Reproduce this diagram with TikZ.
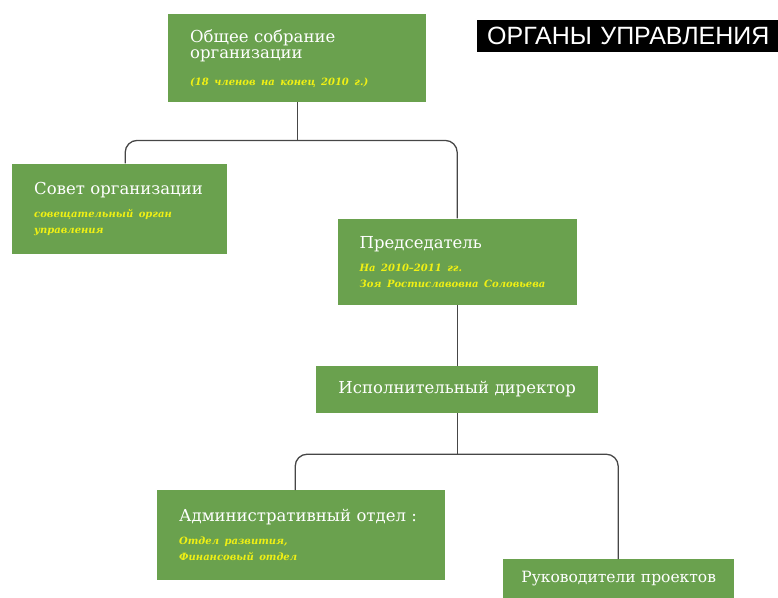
\documentclass[tikz,border=0pt]{standalone}
\usepackage{fontspec}
\setmainfont{DejaVu Serif}
\newfontfamily\headfont{Liberation Sans}
\usetikzlibrary{positioning}

\definecolor{boxgreen}{RGB}{106,161,78}
\definecolor{noteyellow}{RGB}{240,240,20}
\definecolor{linegray}{RGB}{70,70,70}
\newcommand{\subnote}[1]{{\color{noteyellow}\fontsize{10}{13}\selectfont\bfseries\itshape #1}}

\begin{document}
\begin{tikzpicture}[
	  x=1pt, y=-1pt,
	  font=\fontsize{16.5}{16}\selectfont,
	  box/.style={
	    fill=boxgreen,
	    text=white,
	    align=left,
	    inner xsep=22pt,
	    inner ysep=0pt,
	    text width=#1
	  },
	  midbox/.style={box=#1, align=center, inner xsep=8pt},
	  headbox/.style={fill=black, text=white, align=left, inner xsep=10pt,
	    font=\headfont\fontsize{25}{26}\selectfont},
	  link/.style={draw=linegray, line width=1.3pt, rounded corners=12pt}
	]
	\useasboundingbox (0,0) rectangle (778,597);

	% Top level
	\node[box=214pt, minimum height=88pt, anchor=north west] (assembly) at (168,14)
	  {Общее собрание\\организации\\[11pt]\subnote{(18 членов на конец 2010 г.)}};
	\node[headbox, text width=300pt, minimum height=32pt, anchor=north west] (heading) at (477,20)
	  {ОРГАНЫ УПРАВЛЕНИЯ};

	% Second level
	\node[box=171pt, minimum height=90pt, below=61pt of assembly, xshift=-177.5pt] (council)
	  {Совет организации\\[10pt]\subnote{совещательный орган\\управления}};
	\node[box=195pt, minimum height=86pt, below=116pt of assembly, xshift=160pt] (chair)
	  {Председатель\\[10pt]\subnote{На 2010--2011 гг.\\Зоя Ростиславовна Соловьева}};

	\node[midbox=266pt, minimum height=47pt, below=61pt of chair] (director)
	  {Исполнительный директор};

	% Departments
	\node[box=244pt, minimum height=90pt, below=77pt of director, xshift=-156pt] (admin)
	  {Административный отдел :\\[10pt]\subnote{Отдел развития,\\Финансовый отдел}};
	\node[midbox=215pt, minimum height=39pt, below=146pt of director, xshift=161.5pt,
	  font=\fontsize{15.5}{16}\selectfont] (projects)
	  {Руководители проектов};

	% Connectors
	\coordinate[below=38pt of assembly] (fork1);
	\coordinate[below=41pt of director] (fork2);

	\draw[link] (assembly) -- (fork1);
	\draw[link] ([xshift=5.5pt]council.north) |- (fork1) -| (chair.north);
	\draw[link] (chair) -- (director);
	\draw[link] (director) -- (fork2);
	\draw[link] ([xshift=-6pt]admin.north) |- (fork2) -| ([xshift=-0.5pt]projects.north);

	\end{tikzpicture}
\end{document}
